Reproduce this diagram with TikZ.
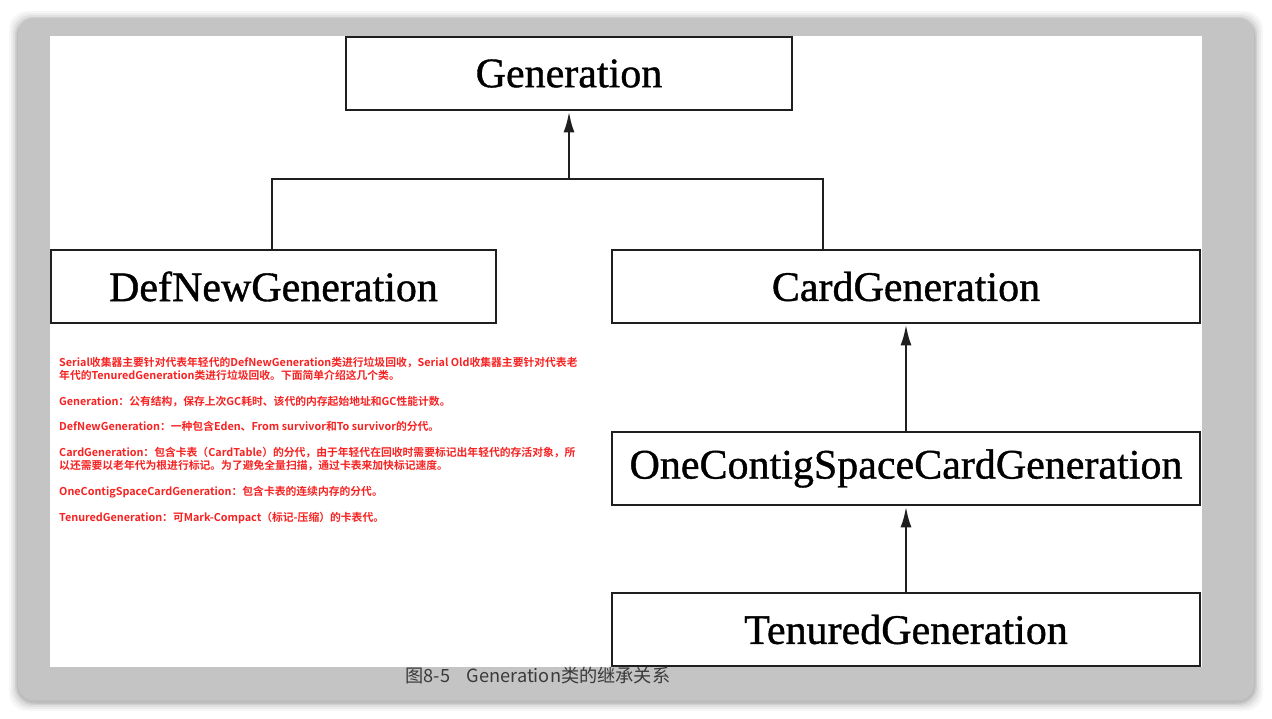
\documentclass[tikz,border=0pt]{standalone}
\usepackage{fontspec}
\setmainfont{Liberation Serif}
\newfontfamily\boxfont[RawFeature={embolden=0.9}]{Liberation Serif}
\newfontfamily\cjk{Noto Sans CJK SC}
\newfontfamily\cjkb{Noto Sans CJK SC Bold}
\usetikzlibrary{arrows.meta}
\definecolor{framegray}{HTML}{C4C4C4}
\definecolor{notered}{HTML}{F72222}
\definecolor{capgray}{HTML}{3A3A3A}
\tikzset{
  cls/.style={draw=black!88, line width=2.7pt, fill=white, inner sep=0pt,
    font=\boxfont\fontsize{42}{42}\selectfont, text=black},
  wire/.style={line width=2.7pt, draw=black!88},
  inh/.style={wire, -{Latex[length=21pt,width=11pt]}},
  note/.style={anchor=north west, inner sep=0pt, text=notered, align=left,
    font=\cjkb\fontsize{10.8}{13}\selectfont},
}
\begin{document}
\begin{tikzpicture}[x=1pt,y=-1pt]
\useasboundingbox (0,0) rectangle (1272,718);
\fill[white] (0,0) rectangle (1272,718);
% soft shadow around the frame
\foreach \d/\o in {9/0.03,7/0.04,5/0.05,3/0.07,1.5/0.09}{
  \fill[black, opacity=\o, rounded corners=18pt] (18-\d,18-\d+2) rectangle (1254+\d,700+\d+2);
}
\fill[framegray, rounded corners=16pt] (18,18) rectangle (1254,700);
\fill[white] (50,36) rectangle (1202,667);

% class boxes
\node[cls, minimum width=446pt, minimum height=73pt] (gen) at (569,73.5) {Generation};
\node[cls, minimum width=445pt, minimum height=73pt] (def) at (273.5,286.5) {DefNewGeneration};
\node[cls, minimum width=588pt, minimum height=73pt] (card) at (906,286.5) {CardGeneration};
\node[cls, minimum width=588pt, minimum height=73pt] (one) at (906,468.5) {OneContigSpaceCardGeneration};
\node[cls, minimum width=588pt, minimum height=73pt] (ten) at (906,629.5) {TenuredGeneration};

% connectors
\coordinate (bus) at (569,179);
\coordinate (defjoin) at (272,179);
\coordinate (cardjoin) at (823,179);
\coordinate (deftop) at (272,250);
\coordinate (cardtop) at (823,250);
\draw[wire] (deftop) -- (defjoin) -- (cardjoin) -- (cardtop);
\draw[inh] (bus) -- (gen.south);
\draw[inh] (one.north) -- (card.south);
\draw[inh] (ten.north) -- (one.south);

% notes
\node[note] (n1) at (59,357) {Serial收集器主要针对代表年轻代的DefNewGeneration类进行垃圾回收，Serial Old收集器主要针对代表老\\年代的TenuredGeneration类进行垃圾回收。下面简单介绍这几个类。};
\node[note] (n2) at (59,396) {Generation：公有结构，保存上次GC耗时、该代的内存起始地址和GC性能计数。};
\node[note] (n3) at (59,421) {DefNewGeneration：一种包含Eden、From survivor和To survivor的分代。};
\node[note] (n4) at (59,447) {CardGeneration：包含卡表（CardTable）的分代，由于年轻代在回收时需要标记出年轻代的存活对象，所\\以还需要以老年代为根进行标记。为了避免全量扫描，通过卡表来加快标记速度。};
\node[note] (n5) at (59,486) {OneContigSpaceCardGeneration：包含卡表的连续内存的分代。};
\node[note] (n6) at (59,512) {TenuredGeneration：可Mark-Compact（标记-压缩）的卡表代。};

% caption
\node[text=capgray, font=\cjk\fontsize{18.2}{18}\selectfont, inner sep=0pt] (cap) at (538,676) {图8-5\hspace{0.9em}Generation类的继承关系};
\end{tikzpicture}
\end{document}
